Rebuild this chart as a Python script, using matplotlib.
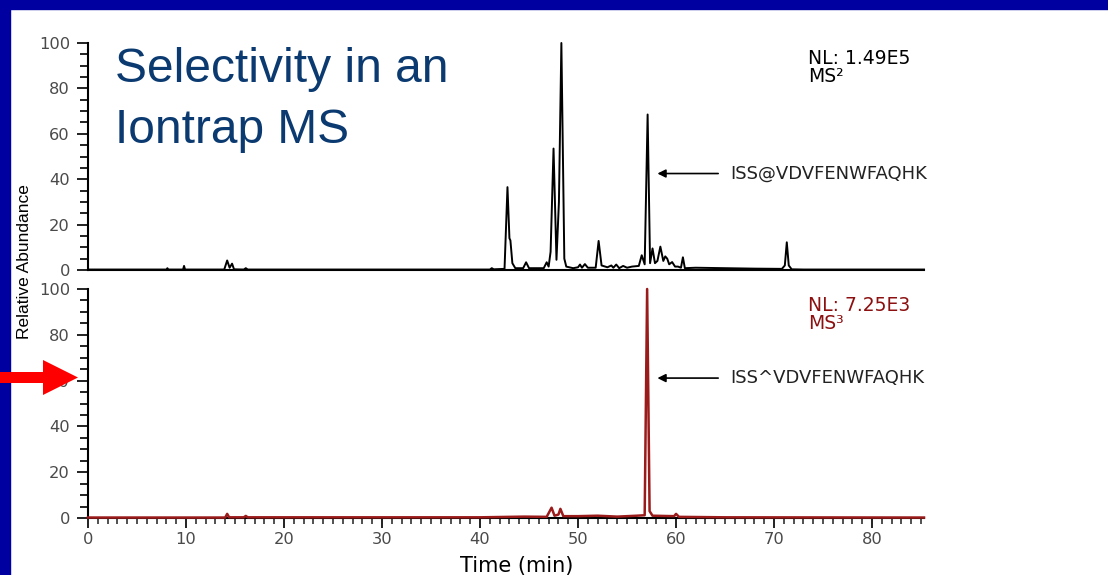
import matplotlib
matplotlib.use('Agg')
import matplotlib.pyplot as plt
from matplotlib.ticker import MultipleLocator
from matplotlib.patches import Rectangle, FancyArrow

# ---------------- data ----------------
ms2_time = [0, 8.0, 8.1, 8.2, 9.7, 9.8, 9.9, 13.9, 14.2, 14.45, 14.7, 14.9,
            15.9, 16.1, 16.3, 41.0, 41.2, 41.4, 42.5, 42.8, 43.0, 43.1, 43.3, 43.6,
            44.4, 44.7, 45.0, 46.5, 46.8, 47.0, 47.2, 47.5, 47.8, 48.05, 48.3, 48.6, 48.8,
            49.5, 50.0, 50.2, 50.4, 50.7, 51.0, 51.8, 52.1, 52.4,
            53.0, 53.4, 53.6, 53.9, 54.2, 54.6, 55.0, 55.5, 56.2, 56.5, 56.8, 57.1, 57.35,
            57.6, 57.85, 58.1, 58.4, 58.7, 58.9, 59.1, 59.3, 59.6, 59.9, 60.2, 60.5, 60.7, 60.9,
            62.0, 65.0, 68.0, 70.8, 71.1, 71.3, 71.5, 71.8, 73.0, 85.3]
ms2_abund = [0.2, 0.2, 0.8, 0.2, 0.2, 1.8, 0.2, 0.2, 4.2, 1.0, 2.8, 0.3,
             0.2, 0.8, 0.2, 0.2, 0.8, 0.3, 0.5, 36.5, 14.0, 13.0, 3.0, 0.8,
             0.8, 3.4, 0.8, 0.8, 3.4, 1.5, 8.0, 53.5, 4.5, 30.0, 100.0, 5.0, 1.5,
             0.8, 1.2, 2.4, 1.0, 2.6, 1.0, 1.0, 12.8, 2.0,
             1.2, 2.0, 1.0, 2.4, 0.8, 1.8, 1.0, 1.5, 1.8, 6.5, 2.5, 68.5, 3.0,
             9.5, 3.0, 4.0, 10.3, 4.0, 6.0, 5.0, 2.5, 3.5, 1.5, 1.5, 1.0, 5.6, 0.8,
             1.0, 0.8, 0.6, 0.5, 2.0, 12.2, 2.0, 0.3, 0.2, 0.2]

ms3_time = [0, 14.0, 14.2, 14.4, 15.9, 16.1, 16.3, 40.0, 44.5, 46.8, 47.3, 47.6,
            48.0, 48.2, 48.5, 50.0, 52.0, 54.0, 56.0, 56.8, 57.05, 57.3, 57.6,
            59.8, 60.0, 60.3, 65.0, 85.3]
ms3_abund = [0.2, 0.2, 1.8, 0.3, 0.3, 0.9, 0.3, 0.3, 0.6, 0.5, 4.5, 1.0,
             1.5, 4.0, 0.8, 0.8, 1.0, 0.6, 1.0, 1.2, 100.0, 3.0, 1.0,
             0.8, 1.8, 0.5, 0.3, 0.2]

y_ticks = [0, 20, 40, 60, 80, 100]
x_ticks = [0, 10, 20, 30, 40, 50, 60, 70, 80]
title_lines = ["Selectivity in an", "Iontrap MS"]
nl_top = ["NL: 1.49E5", "MS\u00b2"]
nl_bottom = ["NL: 7.25E3", "MS\u00b3"]
peptide_top = "ISS@VDVFENWFAQHK"
peptide_bottom = "ISS^VDVFENWFAQHK"

# ---------------- layout ----------------
W, H = 1108, 575
fig = plt.figure(figsize=(W / 100, H / 100), dpi=100)
fig.patch.set_facecolor('white')

def fx(px):
    return px / W

def fy(py):
    return 1 - py / H

NAVY = '#0000A0'
TITLE_C = '#0B3A70'
RED_TRACE = '#9B1B1B'
RED_TEXT = '#8C1010'
TICKLAB = '#4a4a4a'

ax1 = fig.add_axes([fx(88), fy(270), (924 - 88) / W, (270 - 43) / H])
ax2 = fig.add_axes([fx(88), fy(518), (924 - 88) / W, (518 - 289) / H])

for ax in (ax1, ax2):
    ax.set_xlim(0, 85.3)
    ax.set_ylim(0, 100)
    ax.set_facecolor('none')
    for s in ('top', 'right'):
        ax.spines[s].set_visible(False)
    ax.spines['left'].set_linewidth(1.5)
    ax.spines['bottom'].set_linewidth(1.5)
    ax.set_yticks(y_ticks)
    ax.yaxis.set_minor_locator(MultipleLocator(5))
    ax.tick_params(axis='y', which='major', length=8, width=1.4, pad=5,
                   labelsize=11.7, labelcolor=TICKLAB, color='#222')
    ax.tick_params(axis='y', which='minor', length=5.5, width=1.4, color='#222')
    for lab in ax.get_yticklabels():
        lab.set_family('DejaVu Sans')

ax1.tick_params(axis='x', which='both', bottom=False, labelbottom=False)

ax2.set_xticks(x_ticks)
ax2.xaxis.set_minor_locator(MultipleLocator(1))
ax2.tick_params(axis='x', which='major', length=7, width=1.4, pad=3,
                labelsize=11.7, labelcolor=TICKLAB, color='#222')
ax2.tick_params(axis='x', which='minor', length=4, width=1.1, color='#222')

ax1.plot(ms2_time, ms2_abund, color='black', lw=1.4, clip_on=False, zorder=3)
ax2.plot(ms3_time, ms3_abund, color=RED_TRACE, lw=1.8, clip_on=False, zorder=3)

# annotations with arrows
ax1.annotate('', xy=(58.1, 42.5), xytext=(64.3, 42.5),
             arrowprops=dict(arrowstyle='-|>', color='black', lw=1.2,
                             mutation_scale=12, shrinkA=0, shrinkB=0))
ax1.text(65.5, 42.5, peptide_top, fontsize=13, family='DejaVu Sans',
         color='#222', va='center', ha='left')
ax2.annotate('', xy=(58.1, 61.1), xytext=(64.3, 61.1),
             arrowprops=dict(arrowstyle='-|>', color='black', lw=1.2,
                             mutation_scale=12, shrinkA=0, shrinkB=0))
ax2.text(65.5, 61.1, peptide_bottom, fontsize=13, family='DejaVu Sans',
         color='#222', va='center', ha='left')

# NL labels
fig.text(fx(808), fy(64), nl_top[0], fontsize=13.5, family='DejaVu Sans',
         color='black', va='baseline', ha='left')
fig.text(fx(808), fy(82), nl_top[1], fontsize=13.5, family='DejaVu Sans',
         color='black', va='baseline', ha='left')
fig.text(fx(808), fy(311), nl_bottom[0], fontsize=13.5, family='DejaVu Sans',
         color=RED_TEXT, va='baseline', ha='left')
fig.text(fx(808), fy(329), nl_bottom[1], fontsize=13.5, family='DejaVu Sans',
         color=RED_TEXT, va='baseline', ha='left')

# title
fig.text(fx(115), fy(82), title_lines[0], fontsize=34.5, family='Liberation Sans',
         color=TITLE_C, va='baseline', ha='left')
fig.text(fx(115), fy(143), title_lines[1], fontsize=34.5, family='Liberation Sans',
         color=TITLE_C, va='baseline', ha='left')

# axis labels
fig.text(fx(25), fy(262), 'Relative Abundance', rotation=90, va='center', ha='center',
         fontsize=12.5, family='Liberation Sans', color='black')
fig.text(fx(517), fy(566), 'Time (min)', va='center', ha='center',
         fontsize=15, family='DejaVu Sans', color='black')

# slide border (top and left) and red pointer arrow
fig.add_artist(Rectangle((0, fy(9)), 1, 9 / H, transform=fig.transFigure,
                         color=NAVY, zorder=5))
fig.add_artist(Rectangle((0, 0), 10 / W, 1, transform=fig.transFigure,
                         color=NAVY, zorder=5))
fig.add_artist(FancyArrow(0, (H - 377.5) / 100, 0.78, 0, width=0.11, head_width=0.35,
                          head_length=0.35, length_includes_head=True,
                          transform=fig.dpi_scale_trans, color='#FF0000', lw=0,
                          zorder=10))

fig.savefig('out.png', dpi=100, facecolor='white')
